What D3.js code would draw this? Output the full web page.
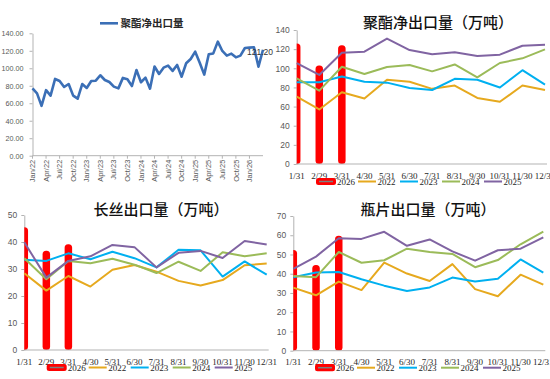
<!DOCTYPE html>
<html><head><meta charset="utf-8">
<script src="https://cdn.jsdelivr.net/npm/d3@7"></script>
<style>body{margin:0;background:#fff;} svg{display:block;}</style>
</head><body><svg id="c" width="550" height="379"></svg>
<script>
// ---------- DATA ----------
const netTitle = "聚酯净出口量";
const netTickLabels = ["Jan/22","Apr/22","Jul/22","Oct/22","Jan/23","Apr/23","Jul/23","Oct/23","Jan/24","Apr/24","Jul/24","Oct/24","Jan/25","Apr/25","Jul/25","Oct/25","Jan/26"];
const netExport = [77,
  71.3,57,75,68.7,87.8,85.5,78.6,82,68.7,65.2,82,77.5,
  85.5,85.8,92,86.6,84.3,79,77,89,87.4,79.7,98,84,
  89.3,76.7,102,93.5,100.7,103,97,103.8,90.4,105.7,110.6,119,
  106.4,92.7,116,117,130.5,119.8,114.5,116.7,112.5,114.5,123.2,123.6,
  124,101.8,121.2];
const netLastLabel = "121.20";
const netYTicks = [0,20,40,60,80,100,120,140];

const months = ["1/31","2/29","3/31","4/30","5/31","6/30","7/31","8/31","9/30","10/31","11/30","12/31"];
const barYear = "2026";
const lineYears = ["2022","2023","2024","2025"];

// 聚酯净出口量（万吨）
const polyBar2026 = [126,103,124];
const poly2022 = [70.5,57,75,68.5,88,86,78.5,82,69,65,82,77.3];
const poly2023 = [85.5,85.5,91.5,86,85,79.5,77.3,89,88,80,98,83];
const poly2024 = [89.5,76.6,101.6,94,101.4,103.4,96.8,104,90.6,105.5,110.4,119.8];
const poly2025 = [105.5,93,116.2,117.4,131,119,114.6,116.7,112.9,114.2,123.6,124.5];
const polyYTicks = [0,20,40,60,80,100,120,140];

// 长丝出口量（万吨）
const filBar2026 = [45.5,36.8,39.2];
const fil2022 = [28.4,22,27.4,23.5,29.7,31.5,29,25.6,23.9,25.9,31.4,32];
const fil2023 = [33.4,33,35.8,33.6,36.4,34,30.6,37.1,36.9,27.2,32.8,27.9];
const fil2024 = [34,26.2,33,32.1,33.8,31.6,28.5,32.7,29.3,36.2,34.7,35.8];
const fil2025 = [39.9,26.8,33,34.7,38.9,38.1,30.6,36,36.7,34.1,40.4,39.1];
const filYTicks = [0,10,20,30,40,50];

// 瓶片出口量（万吨）
const botBar2026 = [52.3,44.5,59.7];
const bot2022 = [32.8,28.8,35.9,31.5,45.8,40.1,36.2,45,32,28.3,39.5,34.3];
const bot2023 = [38.2,40.6,40.9,37.1,33.8,31,32.9,38,36,37.4,47.4,40.6];
const bot2024 = [38.8,38.2,51.3,45.7,47,53,51.3,50.3,43.4,47.1,55.3,61.9];
const bot2025 = [42.5,48.9,58.4,58.1,61.8,54.5,57.8,51.6,46.8,52.2,53,58.9];
const botYTicks = [0,10,20,30,40,50,60,70];

// ---------- STYLE ----------
const C = {red:"#FF0000", y2022:"#E6A91E", y2023:"#00B0F0", y2024:"#9BBB59", y2025:"#8064A2", net:"#3B6FB6", axis:"#B3B3B3", tick:"#595959"};
const lineColors = [C.y2022, C.y2023, C.y2024, C.y2025];
const SERIF = "'Liberation Serif','DejaVu Serif',serif";
const SANS = "'Liberation Sans',Arial,sans-serif";
const CJK = "'Noto Sans CJK SC','Noto Sans',sans-serif";

const svg = d3.select("#c");

// ---------- TOP-LEFT: net export line ----------
(function(){
  const g = svg.append("g");
  const x = d3.scalePoint().domain(d3.range(netExport.length)).range([32.5, 263]);
  const y = d3.scaleLinear().domain([0,140]).range([155.7, 33.3]);
  const ya = d3.axisLeft(y).tickValues(netYTicks).tickFormat(d3.format(".2f")).tickSize(3).tickSizeOuter(0).tickPadding(6);
  const gy = g.append("g").attr("transform","translate(32.5,0)").call(ya);
  gy.select(".domain").attr("stroke",C.axis);
  gy.selectAll(".tick line").attr("stroke",C.axis);
  gy.selectAll("text").attr("fill",C.tick).style("font-family",SANS).style("font-size","7.2px");
  // x axis
  g.append("line").attr("x1",32.5).attr("x2",263).attr("y1",y(0)).attr("y2",y(0)).attr("stroke",C.axis);
  const tickIdx = netTickLabels.map((d,i)=>i*3);
  g.selectAll(".xt").data(tickIdx).join("line").attr("x1",d=>x(d)).attr("x2",d=>x(d))
    .attr("y1",y(0)).attr("y2",y(0)+3).attr("stroke",C.axis);
  g.selectAll(".xl").data(netTickLabels).join("text")
    .attr("transform",(d,i)=>`translate(${x(i*3)},${y(0)+4}) rotate(-90)`)
    .attr("dy","0.35em").attr("text-anchor","end")
    .attr("fill",C.tick).style("font-family",SANS).style("font-size","7.5px").text(d=>d);
  g.append("path").datum(netExport)
    .attr("d",d3.line().x((d,i)=>x(i)).y(d=>y(d)))
    .attr("fill","none").attr("stroke",C.net).attr("stroke-width",2.6).attr("stroke-linejoin","round");
  const li = netExport.length-1;
  g.append("text").attr("x",x(li)-3).attr("y",y(netExport[li])+2).attr("dy","0.35em")
    .attr("text-anchor","middle").attr("fill","#333").style("font-family",SANS).style("font-size","8.5px").text(netLastLabel);
  // legend
  g.append("line").attr("x1",100).attr("x2",118).attr("y1",23.3).attr("y2",23.3).attr("stroke",C.net).attr("stroke-width",2.6);
  g.append("text").attr("x",120.5).attr("y",23.3).attr("dy","0.35em").attr("fill","#262626")
    .style("font-family",CJK).style("font-size","10.5px").style("font-weight","bold").text(netTitle);
})();

// ---------- monthly charts ----------
function monthly(cfg, bars, lines, yTicks){
  const g = svg.append("g");
  const x = d3.scalePoint().domain(months).range([cfg.xl, cfg.xr]);
  const y = d3.scaleLinear().domain([0, d3.max(yTicks)]).range([cfg.yb, cfg.yt]);
  const clipId = "clip"+cfg.id;
  g.append("clipPath").attr("id",clipId).append("rect")
    .attr("x",cfg.xl).attr("y",cfg.yt-10).attr("width",cfg.xr-cfg.xl+10).attr("height",cfg.yb-cfg.yt+10);
  // title
  g.append("text").attr("x",cfg.tx).attr("y",cfg.ty).attr("dy","0.35em").attr("text-anchor","middle")
    .attr("fill","#111").style("font-family",CJK).style("font-size","15px").style("font-weight","500").text(cfg.title);
  // y axis
  const gy = g.append("g").attr("transform",`translate(${cfg.xl},0)`)
    .call(d3.axisLeft(y).tickValues(yTicks).tickSize(3).tickSizeOuter(0).tickPadding(4));
  gy.select(".domain").attr("stroke",C.axis);
  gy.selectAll(".tick line").attr("stroke",C.axis);
  gy.selectAll("text").attr("fill",C.tick).style("font-family",SANS).style("font-size","8.5px");
  // bars
  const bw = 7.5;
  g.append("g").attr("clip-path",`url(#${clipId})`).selectAll("rect").data(bars).join("rect")
    .attr("x",(d,i)=>x(months[i])-bw/2).attr("width",bw)
    .attr("y",d=>y(d)).attr("height",d=>y(0)-y(d)).attr("rx",3.5).attr("fill",C.red);
  // x axis line
  g.append("line").attr("x1",cfg.xl).attr("x2",cfg.xr+2).attr("y1",y(0)).attr("y2",y(0)).attr("stroke",C.axis);
  // lines
  const lg = d3.line().x((d,i)=>x(months[i])).y(d=>y(d));
  lines.forEach((s,k)=>{
    g.append("path").datum(s).attr("d",lg).attr("fill","none").attr("stroke",lineColors[k])
      .attr("stroke-width",2).attr("stroke-linejoin","round");
  });
  // x labels
  g.selectAll(".ml").data(months).join("text").attr("x",d=>x(d)).attr("y",cfg.ly).attr("dy","0.35em")
    .attr("text-anchor","middle").attr("fill","#262626").style("font-family",SERIF).style("font-size","9px").text(d=>d);
  // legend
  const L = g.append("g").attr("transform",`translate(${cfg.lx},${cfg.lgy})`);
  L.append("rect").attr("x",0).attr("y",-3.6).attr("width",20).attr("height",7.2).attr("rx",2.5).attr("fill",C.red);
  L.append("line").attr("x1",3).attr("x2",17).attr("y1",0).attr("y2",0).attr("stroke","#7f7f7f").attr("stroke-width",1.5);
  L.append("text").attr("x",21).attr("y",0).attr("dy","0.35em").attr("fill","#262626")
    .style("font-family",SERIF).style("font-size","9px").text(barYear);
  lineYears.forEach((yr,k)=>{
    const ox = 42*(k+1);
    L.append("line").attr("x1",ox).attr("x2",ox+18).attr("y1",0).attr("y2",0).attr("stroke",lineColors[k]).attr("stroke-width",2);
    L.append("text").attr("x",ox+19.5).attr("y",0).attr("dy","0.35em").attr("fill","#262626")
      .style("font-family",SERIF).style("font-size","9px").text(yr);
  });
}

monthly({id:"p", xl:296.7, xr:545, yb:164, yt:30, title:"聚酯净出口量（万吨）", tx:438, ty:23, ly:175.7, lx:316, lgy:181.5},
  polyBar2026, [poly2022,poly2023,poly2024,poly2025], polyYTicks);
monthly({id:"f", xl:24.3, xr:266.7, yb:350, yt:215, title:"长丝出口量（万吨）", tx:161, ty:210, ly:362.3, lx:46.7, lgy:367.5},
  filBar2026, [fil2022,fil2023,fil2024,fil2025], filYTicks);
monthly({id:"b", xl:293.3, xr:543.3, yb:350.7, yt:216, title:"瓶片出口量（万吨）", tx:428, ty:210, ly:362.3, lx:315, lgy:367.7},
  botBar2026, [bot2022,bot2023,bot2024,bot2025], botYTicks);
</script></body></html>
